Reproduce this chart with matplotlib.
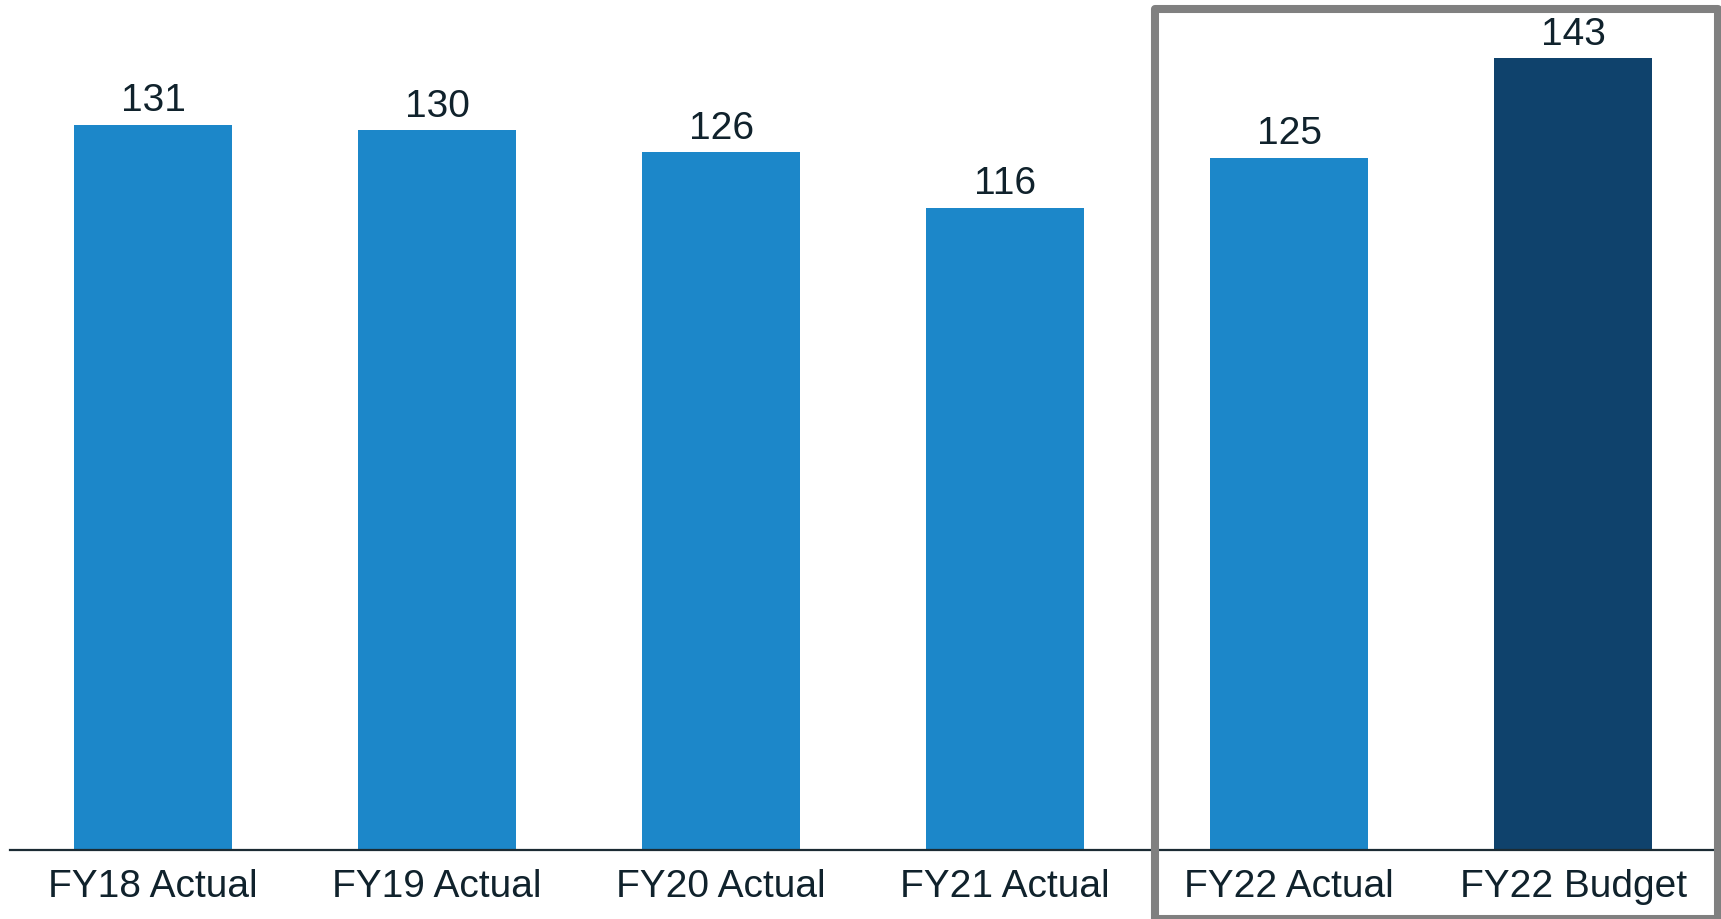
import matplotlib
matplotlib.use("Agg")
import matplotlib.pyplot as plt
from matplotlib.patches import Rectangle

# chart data
categories = ["FY18 Actual", "FY19 Actual", "FY20 Actual", "FY21 Actual",
              "FY22 Actual", "FY22 Budget"]
values = [131, 130, 126, 116, 125, 143]
bar_colors = ["#1c87c9", "#1c87c9", "#1c87c9", "#1c87c9", "#1c87c9", "#0f426c"]

TEXT = "#10222c"

plt.rcParams['font.family'] = ['Liberation Sans', 'DejaVu Sans']

fig = plt.figure(figsize=(17.21, 9.19), dpi=100)
ax = fig.add_axes([10 / 1721, 69 / 919, 1 - 10 / 1721, 850 / 919])

x = range(len(categories))
bars = ax.bar(x, values, width=0.556, color=bar_colors, zorder=2)

for b, v in zip(bars, values):
    ax.annotate(str(v), (b.get_x() + b.get_width() / 2, b.get_height()),
                xytext=(0, 4), textcoords='offset points',
                ha='center', va='bottom', fontsize=28, color=TEXT)

ax.set_xlim(-0.5035, 5.52)
ax.set_ylim(0, 153.5)
ax.set_xticks(list(x))
ax.set_xticklabels(categories, fontsize=28, color=TEXT)
ax.tick_params(axis='x', length=0, pad=14)
ax.set_yticks([])
for side in ['top', 'right', 'left']:
    ax.spines[side].set_visible(False)
ax.spines['bottom'].set_color("#1b2b33")
ax.spines['bottom'].set_linewidth(1.6)

# grey box around FY22 columns
box = Rectangle((1155 / 1721, 0), (1718 - 1155) / 1721, 910 / 919,
                transform=fig.transFigure, fill=False,
                edgecolor="#808080", linewidth=5.8, joinstyle='round',
                zorder=5)
fig.patches.append(box)

fig.savefig("out.png", dpi=100)
